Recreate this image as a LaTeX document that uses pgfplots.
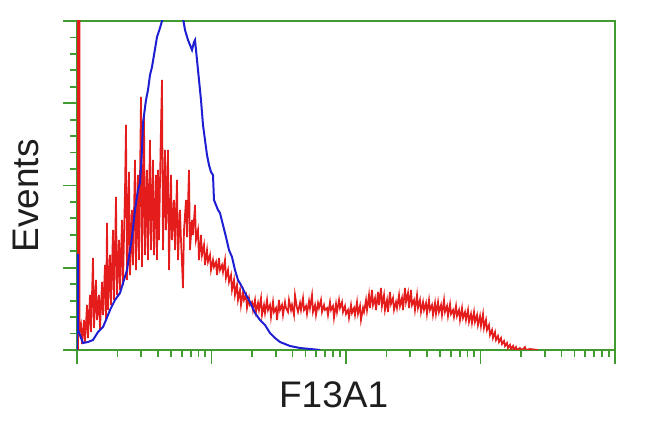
\documentclass[border=0pt]{standalone}
\usepackage{pgfplots}
\pgfplotsset{compat=1.18}
\usepackage{fontspec}
\setmainfont{Liberation Sans}
\definecolor{axgreen}{RGB}{64,156,48}
\definecolor{hred}{RGB}{228,28,28}
\definecolor{hblue}{RGB}{30,30,210}
\definecolor{txt}{RGB}{30,30,30}
\begin{document}
\begin{tikzpicture}
\useasboundingbox (0,0) rectangle (325pt,216pt);
\begin{axis}[
  at={(38.5pt,41pt)}, anchor=south west,
  scale only axis, width=269pt, height=164.5pt,
  xmin=77, xmax=615, ymin=0, ymax=329,
  axis line style={axgreen, line width=1.3pt},
  tick pos=left, tick align=outside,
  xtick={77,211.5,346,480.5,615},
  minor xtick={117.49,141.17,157.98,171.01,181.66,190.67,198.47,205.35,
    251.99,275.67,292.48,305.51,316.16,325.17,332.97,339.85,
    386.49,410.17,426.98,440.01,450.66,459.67,467.47,474.35,
    520.99,544.67,561.48,574.51,585.16,594.17,601.97,608.85},
  ytick={0,82.25,164.5,246.75,329},
  minor ytick={16.45,32.9,49.35,65.8,98.7,115.15,131.6,148.05,180.95,197.4,213.85,230.3,263.2,279.65,296.1,312.55},
  xticklabels={}, yticklabels={},
  major tick length=7pt, minor tick length=3.5pt,
  every tick/.style={axgreen, line width=0.9pt},
  xlabel={F13A1}, ylabel={Events},
  label style={font=\fontsize{18.5}{22}\selectfont, text=txt},
  xlabel style={at={(axis description cs:0.477,0)}, anchor=center, yshift=-22.5pt},
  ylabel style={at={(axis description cs:-0.0948,0.468)}, anchor=center},
]
\addplot[hred, line width=0.85pt] table {
x h
78 0
78 340
79.5 340
79.5 18
81 25
82 6
84 30
85 8
87 45
88 12
90 55
91 18
93 92
94 22
96 70
97 30
99 55
100 20
102 68
103 35
105 85
106 30
107 127
108 40
110 95
111 45
113 120
114 50
116 153
117 55
119 110
120 60
122 130
123 65
125 160
126 225
127 70
129 178
130 75
132 140
133 85
135 190
136 80
138 175
139 90
141 253
142 83
144 235
145 95
147 180
148 90
150 210
151 100
153 190
154 95
156 175
157 90
158 180
159 110
161 225
162 270
163 100
165 200
166 120
168 200
169 80
171 175
172 110
174 150
175 100
177 170
178 90
180 140
181 110
183 62
184 120
186 150
187 113
189 180
190 100
192 130
193 115
195 145
196 110
198 120
199 90
201 115
202 95
204 105
205 85
207 100
208 88
210 95
211 80
213 90
214 83
216 88
217 75
219 92
220 80
222 85
223 78
225 90
226 72
228 80
229 68
231 75
232 60
234 70
235 55
237 65
238 50
240 60
241 45
243 58
244 50
246 55
247 42
249 52
250 45
252 48
253 40
255 50
256 38
258 47
259 40
261 52
262 35
264 45
265 37
267 50
268 40
270 45
271 33
273 48
274 38
276 42
277 30
279 50
280 40
282 45
283 35
285 48
286 42
288 38
289 50
291 40
292 45
294 35
295 55
297 42
298 38
300 47
301 40
303 52
304 40
306 44
307 36
309 49
310 42
312 55
313 38
315 45
316 35
318 47
319 42
321 50
322 38
324 45
325 40
327 42
328 35
330 48
331 40
333 44
334 32
336 46
337 38
339 50
340 42
342 48
343 38
345 44
346 36
348 40
349 32
351 45
352 37
354 42
355 35
357 48
358 36
360 44
361 30
363 42
364 38
366 50
367 40
369 55
370 42
372 60
373 45
375 52
376 40
378 58
379 45
381 62
382 44
384 55
385 40
387 50
388 38
390 58
391 46
393 52
394 40
396 48
397 42
399 55
400 44
402 52
403 40
405 62
406 48
408 57
409 42
411 60
412 45
414 50
415 40
417 55
418 42
420 50
421 38
423 48
424 40
426 47
427 36
429 50
430 40
432 45
433 35
435 47
436 36
438 48
439 38
441 45
442 35
444 50
445 38
447 44
448 34
450 46
451 36
453 40
454 33
456 44
457 34
459 40
460 30
462 42
463 32
465 38
466 30
468 40
469 28
471 36
472 27
474 38
475 28
477 35
478 25
480 34
481 24
483 36
484 22
486 30
487 20
489 25
490 15
492 20
493 12
495 18
496 10
498 14
499 8
501 12
502 6
504 9
505 4
507 7
508 2
510 5
511 1
513 4
514 0
516 3
517 0
520 2
522 0
525 3
526 0
530 1
538 0
};
\addplot[hblue, line width=1pt] table {
x h
77 0
77 95
78 95
78 20
80 15
83 7
88 8
93 10
98 18
103 23
106 30
110 40
115 50
120 57
124 70
127 80
130 100
132 113
135 140
138 160
140 167
142 200
143 227
146 250
148 260
150 275
152 283
154 295
157 313
160 322
162 329
164 336
170 348
178 345
183 332
185 320
188 310
190 305
192 300
194 308
195 310
197 290
199 270
201 250
203 225
205 210
207 195
209 185
211 178
213 175
214 150
216 145
218 140
220 137
223 125
226 113
229 100
232 93
235 80
238 70
241 65
245 57
250 48
255 37
260 30
265 25
270 17
275 12
280 8
290 4
300 2
310 1
320 0
};
\end{axis}
\end{tikzpicture}
\end{document}
